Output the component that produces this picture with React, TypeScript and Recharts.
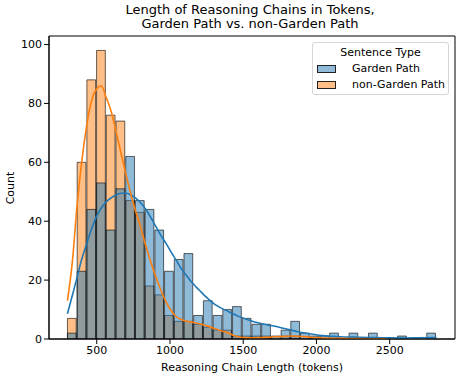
import { ComposedChart, Bar, Line, XAxis, YAxis, ReferenceArea } from 'recharts'

// histogram bins (centers, tokens) — seaborn auto bins, width ~66.3
const binCenters = [
  333.2, 399.5, 465.8, 532.1, 598.4, 664.7, 731.0, 797.3, 863.6, 929.9,
  996.2, 1062.5, 1128.8, 1195.1, 1261.4, 1327.7, 1394.0, 1460.3, 1526.6, 1592.9,
  1659.2, 1725.5, 1791.8, 1858.1, 1924.4, 1990.7, 2057.0, 2123.3, 2189.6, 2255.9,
  2322.2, 2388.5, 2454.8, 2521.1, 2587.4, 2653.7, 2720.0, 2786.3,
]
const BIN_WIDTH = 66.3

const gardenCounts = [
  2, 23, 44, 53, 37, 51, 62, 47, 44, 37,
  23, 27, 29, 8, 13, 8, 10, 11, 7, 5,
  5, 1, 3, 6, 2, 1, 1, 2, 0, 2,
  0, 2, 0, 0, 1, 0, 0, 2,
]
const nonGardenCounts = [
  7, 60, 88, 98, 76, 74, 47, 43, 18, 15,
  8, 6, 6, 5, 4, 3, 3, 1, 1, 1,
  1, 0, 1, 1, 0, 0, 0, 0, 0, 0,
  0, 0, 0, 0, 0, 0, 0, 0,
]

// kde curves (token, count-scaled density)
const gardenKdeX = [
  300, 329, 361, 394, 429, 462, 497, 531, 565, 600, 634, 668, 702, 736, 770, 804, 838, 872,
  906, 940, 974, 1008, 1042, 1076, 1110, 1144, 1178, 1212, 1246, 1280, 1314, 1405, 1473,
  1541, 1609, 1677, 1745, 1813, 1881, 1949, 2018, 2106, 2188, 2290, 2392, 2494, 2596, 2698, 2820,
]
const gardenKdeY = [
  8.6, 14, 20, 26.5, 32, 37, 41.5, 44.5, 46.6, 48, 49, 49.5, 49.5, 48.8, 47.7, 46, 43.8, 41,
  38, 35, 32.4, 29.5, 26.8, 24, 21.7, 19.5, 17.7, 16, 14.3, 12.8, 11.5, 9.2, 7.6,
  6.4, 5.4, 4.7, 4.0, 3.2, 2.4, 1.8, 1.3, 0.9, 0.7, 0.6, 0.5, 0.4, 0.35, 0.4, 0.5,
]
const nonGardenKdeX = [
  300, 333, 365, 397, 433, 465, 500, 531, 565, 600, 634, 666, 699, 731, 765, 799, 833, 867,
  901, 935, 969, 1003, 1037, 1071, 1105, 1146, 1201, 1269, 1337, 1391, 1439, 1494, 1575,
  1677, 1780, 1848, 1916, 2018, 2154, 2324, 2474,
]
const nonGardenKdeY = [
  13, 26, 45, 60, 73, 81, 85, 86, 82, 77, 70, 63, 56, 49.5, 43.5, 38, 32, 26.5,
  21.5, 17, 13, 10, 7.8, 6.8, 6.1, 5.8, 5.2, 4.2, 3.0, 2.2, 1.2, 0.5, 0.4,
  0.6, 0.9, 1.0, 0.8, 0.4, 0.2, 0.1, 0.05,
]

const xTicks = [500, 1000, 1500, 2000, 2500]
const yTicks = [0, 20, 40, 60, 80, 100]

const X_MIN = 174
const X_MAX = 2946
const Y_MAX = 102.9

const W = 458
const H = 375
const M = { top: 36, right: 3, bottom: 16, left: 0 }
const Y_AXIS_W = 49
const PLOT_W = W - M.left - M.right - Y_AXIS_W

const BLUE = '#1f77b4'
const ORANGE = '#ff7f0e'
const font = "'DejaVu Sans', sans-serif"

const histData = binCenters.map((x, i) => ({ x, garden: gardenCounts[i], nonGarden: nonGardenCounts[i] }))
const gardenKde = gardenKdeX.map((x, i) => ({ x, y: gardenKdeY[i] }))
const nonGardenKde = nonGardenKdeX.map((x, i) => ({ x, y: nonGardenKdeY[i] }))

const barPx = (BIN_WIDTH * PLOT_W) / (X_MAX - X_MIN)

const tickStyle = { fill: '#000', fontSize: 11, fontFamily: font }

export default function App() {
  return (
    <div style={{ position: 'absolute', left: 0, top: 0, width: W, height: H, background: '#fff', fontFamily: font }}>
      <div style={{ position: 'absolute', left: 0, width: 500, top: 3, textAlign: 'center', fontSize: 13, lineHeight: '13px', color: '#000' }}>
        Length of Reasoning Chains in Tokens,
      </div>
      <div style={{ position: 'absolute', left: 0, width: 500, top: 17, textAlign: 'center', fontSize: 13, lineHeight: '13px', color: '#000' }}>
        Garden Path vs. non-Garden Path
      </div>
      <ComposedChart width={W} height={H} data={histData} margin={M} barCategoryGap={0} barGap={0}>
        <XAxis
          xAxisId="a"
          dataKey="x"
          type="number"
          domain={[X_MIN, X_MAX]}
          allowDataOverflow
          ticks={xTicks}
          tick={tickStyle}
          tickSize={5}
          tickLine={{ stroke: '#000' }}
          axisLine={{ stroke: '#000' }}
          height={20}
        />
        <XAxis xAxisId="b" dataKey="x" type="number" domain={[X_MIN, X_MAX]} allowDataOverflow hide />
        <XAxis xAxisId="k" dataKey="x" type="number" domain={[X_MIN, X_MAX]} allowDataOverflow hide />
        <YAxis
          type="number"
          domain={[0, Y_MAX]}
          allowDataOverflow
          ticks={yTicks}
          tick={tickStyle}
          tickSize={5}
          tickLine={{ stroke: '#000' }}
          axisLine={{ stroke: '#000' }}
          width={Y_AXIS_W}
        />
        <Bar
          xAxisId="a"
          dataKey="nonGarden"
          barSize={barPx}
          fill={ORANGE}
          fillOpacity={0.5}
          stroke="#000"
          strokeOpacity={0.6}
          strokeWidth={1}
          isAnimationActive={false}
        />
        <Bar
          xAxisId="b"
          dataKey="garden"
          barSize={barPx}
          fill={BLUE}
          fillOpacity={0.5}
          stroke="#000"
          strokeOpacity={0.6}
          strokeWidth={1}
          isAnimationActive={false}
        />
        <Line
          xAxisId="k"
          data={gardenKde}
          dataKey="y"
          type="monotone"
          stroke={BLUE}
          strokeWidth={1.6}
          dot={false}
          isAnimationActive={false}
        />
        <Line
          xAxisId="k"
          data={nonGardenKde}
          dataKey="y"
          type="monotone"
          stroke={ORANGE}
          strokeWidth={1.6}
          dot={false}
          isAnimationActive={false}
        />
        <ReferenceArea xAxisId="a" x1={X_MIN} x2={X_MAX} y1={0} y2={Y_MAX} fill="none" stroke="#000" strokeWidth={1} />
      </ComposedChart>
      <div style={{ position: 'absolute', left: 0, width: 504, top: 361, textAlign: 'center', fontSize: 11, lineHeight: '13px', color: '#000' }}>
        Reasoning Chain Length (tokens)
      </div>
      <div
        style={{
          position: 'absolute', left: 10, top: 188, fontSize: 11, lineHeight: '13px', color: '#000',
          transform: 'translate(-50%, -50%) rotate(-90deg)', whiteSpace: 'nowrap',
        }}
      >
        Count
      </div>
      <div
        style={{
          position: 'absolute', left: 312, top: 42, width: 135, height: 51, border: '1px solid #d6d6d6',
          borderRadius: 3, background: 'rgba(255,255,255,0.8)', fontSize: 11, color: '#000',
        }}
      >
        <div style={{ textAlign: 'center', marginTop: 3, lineHeight: '14px' }}>Sentence Type</div>
        <div style={{ display: 'flex', alignItems: 'center', marginTop: 2, lineHeight: '14px' }}>
          <span style={{ display: 'inline-block', width: 17, height: 6, marginLeft: 4, marginRight: 16, background: 'rgba(31,119,180,0.5)', border: '1px solid #222' }} />
          Garden Path
        </div>
        <div style={{ display: 'flex', alignItems: 'center', marginTop: 2, lineHeight: '14px' }}>
          <span style={{ display: 'inline-block', width: 17, height: 6, marginLeft: 4, marginRight: 16, background: 'rgba(255,127,14,0.5)', border: '1px solid #222' }} />
          non-Garden Path
        </div>
      </div>
    </div>
  )
}
